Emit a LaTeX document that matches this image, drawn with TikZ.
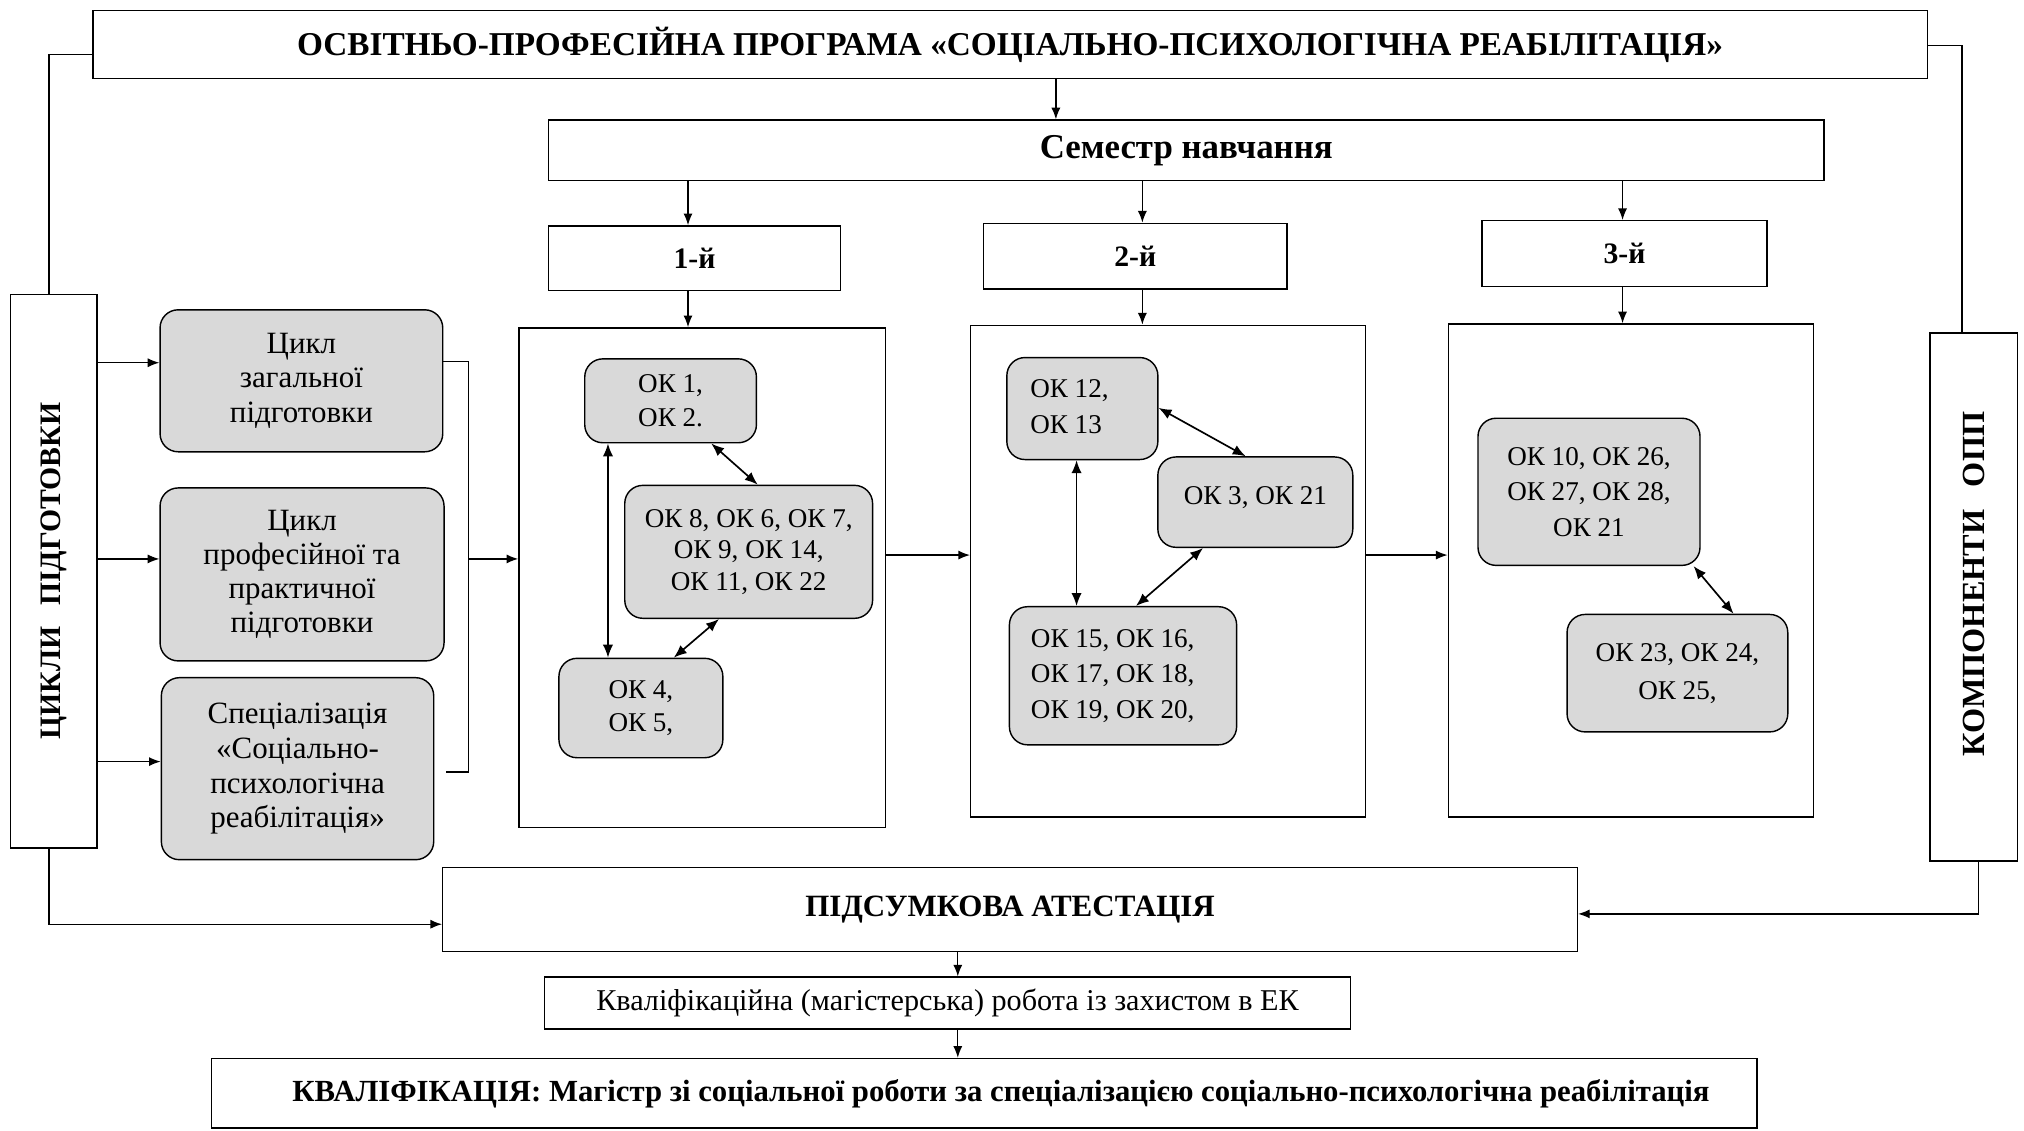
\documentclass[tikz,border=0pt]{standalone}
\usepackage{fontspec}
\usepackage{graphicx}
\setmainfont{Liberation Serif}
\usetikzlibrary{arrows.meta,calc}
\newcommand\fsz[2]{\fontsize{#1}{#2}\selectfont}
\begin{document}
\begin{tikzpicture}[x=1pt,y=-1pt,
 box/.style={draw,line width=1.1pt,inner sep=0pt,align=center},
 rbox/.style={draw,line width=1.1pt,rounded corners=14pt,fill=black!15,inner sep=0pt,align=center},
 arr/.style={line width=1pt,-{Latex[length=9pt,width=7pt]}},
 darr/.style={line width=1.3pt,{Latex[length=10pt,width=8pt]}-{Latex[length=10pt,width=8pt]}},
 ln/.style={line width=1pt}]
\useasboundingbox (0,0) rectangle (1568,876);
% helper coordinates
\coordinate (xa) at (818,0);
\coordinate (x1) at (533,0);
\coordinate (x2) at (885,0);
\coordinate (x3) at (1257,0);
\coordinate (xl) at (38,0);
\coordinate (xr) at (1520,0);
\coordinate (xrb) at (1533,0);
\coordinate (xbr) at (363,0);
\coordinate (xk) at (742,0);
\coordinate (xv1) at (471,0);
\coordinate (xd1a) at (551,0);
\coordinate (xd1b) at (587,0);
\coordinate (xd1c) at (557,0);
\coordinate (xd1d) at (522,0);
\coordinate (xv2) at (834,0);
\coordinate (xd2b) at (965,0);
\coordinate (xd2c) at (932,0);
\coordinate (xd2d) at (880,0);
\coordinate (xd3a) at (1312,0);
\coordinate (xd3b) at (1343,0);
\coordinate (ytl) at (0,42);
\coordinate (ytr) at (0,35);
\coordinate (yA) at (0,281);
\coordinate (yB) at (0,433);
\coordinate (yC) at (0,590);
\coordinate (ybt) at (0,280);
\coordinate (ybb) at (0,598);
\coordinate (ymid) at (0,430);
\coordinate (ypl) at (0,716);
\coordinate (ypr) at (0,708);
\coordinate (yd2a) at (0,316);

% main boxes
\node[box,minimum width=1421pt,minimum height=53pt,font=\fsz{25.8}{30}\bfseries] (top) at (782.5,34.5)
 {ОСВІТНЬО-ПРОФЕСІЙНА ПРОГРАМА «СОЦІАЛЬНО-ПСИХОЛОГІЧНА РЕАБІЛІТАЦІЯ»};
\node[box,minimum width=988pt,minimum height=47pt,font=\fsz{27}{30}\bfseries] (sem) at (919,116.5)
 {Семестр навчання};
\node[box,minimum width=226pt,minimum height=50pt,font=\fsz{23}{26}\bfseries] (s1) at (538,200) {1-й};
\node[box,minimum width=235pt,minimum height=51pt,font=\fsz{23}{26}\bfseries] (s2) at (879.5,198.5) {2-й};
\node[box,minimum width=221pt,minimum height=51pt,font=\fsz{23}{26}\bfseries] (s3) at (1258.5,196.5) {3-й};
\node[box,minimum width=284pt,minimum height=387pt] (b1) at (544,447.5) {};
\node[box,minimum width=306pt,minimum height=381pt] (b2) at (905,442.5) {};
\node[box,minimum width=283pt,minimum height=382pt] (b3) at (1263.5,442) {};
\node[box,minimum width=67pt,minimum height=429pt,font=\fsz{23}{26}\bfseries] (cyc) at (41.5,442.5)
 {\rotatebox{90}{ЦИКЛИ\hspace{0.7em}ПІДГОТОВКИ}};
\node[box,minimum width=68pt,minimum height=409pt,font=\fsz{25}{28}\bfseries] (komp) at (1529,462.5)
 {\rotatebox{90}{\hspace*{20pt}КОМПОНЕНТИ\hspace{0.7em}ОПП}};
\node[box,minimum width=879pt,minimum height=65pt,font=\fsz{24}{28}\bfseries] (pids) at (782.5,704.5)
 {ПІДСУМКОВА АТЕСТАЦІЯ};
\node[box,minimum width=624pt,minimum height=40pt,font=\fsz{23.4}{26}] (kval) at (734,777)
 {Кваліфікаційна (магістерська) робота із захистом в ЕК};
\node[box,minimum width=1197pt,minimum height=54pt,font=\fsz{23.8}{28}\bfseries] (kvf) at (762.5,847)
 {\hspace*{26pt}КВАЛІФІКАЦІЯ: Магістр зі соціальної роботи за спеціалізацією соціально-психологічна реабілітація};

% cycle boxes
\node[rbox,minimum width=219pt,minimum height=110pt,font=\fsz{24}{27}] (A) at (233.5,295)
 {Цикл\\загальної\\підготовки};
\node[rbox,minimum width=220pt,minimum height=134pt,font=\fsz{24}{26.5}] (B) at (234,445)
 {Цикл\\професійної та\\практичної\\підготовки};
\node[rbox,minimum width=211pt,minimum height=141pt,font=\fsz{24}{27}] (C) at (230.5,595.5)
 {Спеціалізація\\«Соціально-\\психологічна\\реабілітація»};

% semester 1
\node[rbox,minimum width=133pt,minimum height=65pt,align=left,font=\fsz{21}{26}] (ok1) at (519.5,310.5)
 {ОК 1,\\ОК 2.};
\node[rbox,minimum width=192pt,minimum height=103pt,font=\fsz{21}{24.5}] (ok8) at (580,427.5)
 {ОК 8, ОК 6, ОК 7,\\ОК 9, ОК 14,\\ОК 11, ОК 22};
\node[rbox,minimum width=127pt,minimum height=77pt,align=left,font=\fsz{21}{25}] (ok4) at (496.5,548.5)
 {ОК 4,\\ОК 5,};
% semester 2
\node[rbox,minimum width=117pt,minimum height=79pt,font=\fsz{21}{28}] (ok12) at (838.5,316.5)
 {\begin{tabular}{@{}l@{\hspace{20pt}}}ОК 12,\\ОК 13\end{tabular}};
\node[rbox,minimum width=151pt,minimum height=70pt,font=\fsz{21}{26}] (ok3) at (972.5,389)
 {\raisebox{10pt}{ОК 3, ОК 21}};
\node[rbox,minimum width=176pt,minimum height=107pt,font=\fsz{21}{27.5}] (ok15) at (870,523.5)
 {\begin{tabular}{@{}l@{\hspace{16pt}}}ОК 15, ОК 16,\\ОК 17, ОК 18,\\ОК 19, ОК 20,\end{tabular}};
% semester 3
\node[rbox,minimum width=172pt,minimum height=114pt,font=\fsz{21}{27.5}] (ok10) at (1231,381)
 {ОК 10, ОК 26,\\ОК 27, ОК 28,\\ОК 21};
\node[rbox,minimum width=171pt,minimum height=91pt,font=\fsz{21}{29}] (ok23) at (1299.5,521.5)
 {\raisebox{7pt}{\begin{tabular}{@{}c@{}}ОК 23, ОК 24,\\ОК 25,\end{tabular}}};

% connectors
\draw[arr] (top.south -| xa) -- (sem.north -| xa);
\draw[arr] (sem.south -| x1) -- (s1.north -| x1);
\draw[arr] (sem.south -| x2) -- (s2.north -| x2);
\draw[arr] (sem.south -| x3) -- (s3.north -| x3);
\draw[arr] (s1.south -| x1) -- (b1.north -| x1);
\draw[arr] (s2.south -| x2) -- (b2.north -| x2);
\draw[arr] (s3.south -| x3) -- (b3.north -| x3);
\draw[ln] (top.west |- ytl) -| (cyc.north -| xl);
\draw[ln] (top.east |- ytr) -| (komp.north -| xr);
\draw[arr] (cyc.south -| xl) |- (pids.west |- ypl);
\draw[arr] (komp.south -| xrb) |- (pids.east |- ypr);
\draw[arr] (cyc.east |- yA) -- (A.west |- yA);
\draw[arr] (cyc.east |- yB) -- (B.west |- yB);
\draw[arr] (cyc.east |- yC) -- (C.west |- yC);
\draw[ln] (A.east |- ybt) -| (xbr |- ybb) -- ($(C.east |- ybb)+(9,0)$);
\draw[arr] (xbr |- yB) -- (b1.west |- yB);
\draw[arr] (b1.east |- ymid) -- (b2.west |- ymid);
\draw[arr] (b2.east |- ymid) -- (b3.west |- ymid);
\draw[arr] (pids.south -| xk) -- (kval.north -| xk);
\draw[arr] (kval.south -| xk) -- (kvf.north -| xk);
% inner links
\draw[darr] (ok1.south -| xv1) -- (ok4.north -| xv1);
\draw[darr] (ok1.south -| xd1a) -- (ok8.north -| xd1b);
\draw[darr] (ok8.south -| xd1c) -- (ok4.north -| xd1d);
\draw[darr] (ok12.south -| xv2) -- (ok15.north -| xv2);
\draw[darr] (ok12.east |- yd2a) -- (ok3.north -| xd2b);
\draw[darr] (ok3.south -| xd2c) -- (ok15.north -| xd2d);
\draw[darr] (ok10.south -| xd3a) -- (ok23.north -| xd3b);
\end{tikzpicture}
\end{document}
